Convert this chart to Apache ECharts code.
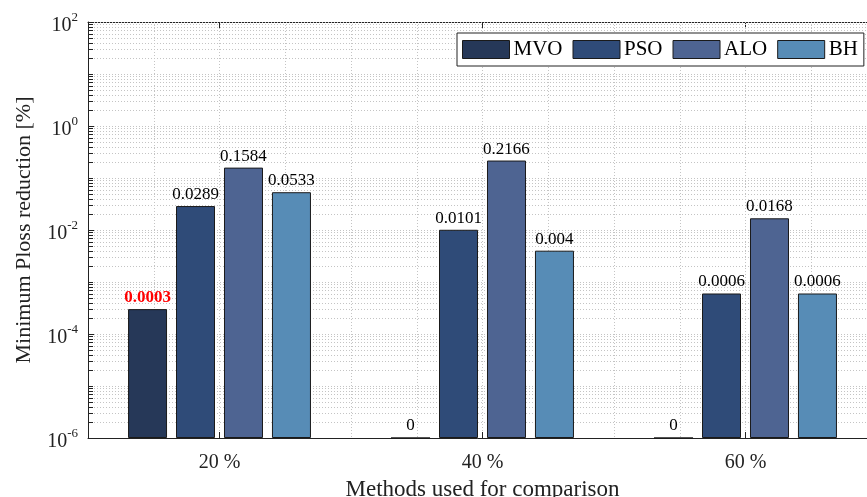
<!DOCTYPE html>
<html>
<head>
<meta charset="utf-8">
<script src="https://cdn.jsdelivr.net/npm/echarts@6/dist/echarts.min.js"></script>
<style>html,body{margin:0;padding:0;background:#fff}#c{width:867px;height:497px}</style>
</head>
<body>
<div id="c"></div>
<script>
const categories = ['20 %', '40 %', '60 %'];
const seriesNames = ['MVO', 'PSO', 'ALO', 'BH'];
const mvoValues = [0.0003, 0, 0];
const psoValues = [0.0289, 0.0101, 0.0006];
const aloValues = [0.1584, 0.2166, 0.0168];
const bhValues = [0.0533, 0.004, 0.0006];
const yMin = 1e-6, yMax = 1e2;
const colors = ['#263858', '#2f4b78', '#4e6492', '#578cb6'];

const FONT = '"Liberation Serif", "Times New Roman", serif';
const allValues = [mvoValues, psoValues, aloValues, bhValues];

// minor/major grid values (every m*10^k within range)
const gridValues = [];
for (let k = -6; k < 2; k++) {
  for (let m = 1; m <= 9; m++) {
    const v = m * Math.pow(10, k);
    if (!(m === 1 && k === -6)) gridValues.push([0, v, m]);
  }
}
gridValues.push([0, 100, 1]);

const chart = echarts.init(document.getElementById('c'), null, {renderer: 'canvas'});

const barSeries = [];
seriesNames.forEach((name, i) => {
  // invisible base so bars rise from the bottom of the log axis
  barSeries.push({
    name: '_base' + i,
    type: 'bar',
    stack: 's' + i,
    barWidth: 39,
    barGap: '23%',
    silent: true,
    z: 4,
    itemStyle: {color: 'rgba(0,0,0,0)', borderWidth: 0},
    label: {show: false},
    data: categories.map(() => yMin)
  });
  barSeries.push({
    name: name,
    type: 'bar',
    stack: 's' + i,
    barWidth: 39,
    barGap: '23%',
    z: 5,
    itemStyle: {color: colors[i], borderColor: '#1a1a1a', borderWidth: 1},
    data: allValues[i].map((v, j) => {
      const item = {value: v, raw: v};
      if (i === 0 && j === 0) {
        item.label = {color: '#ff0000', fontWeight: 'bold'};
      }
      return item;
    }),
    label: {
      show: true,
      position: 'top',
      distance: 3,
      fontFamily: FONT,
      fontSize: 17,
      color: '#000',
      formatter: p => String(p.data.raw)
    }
  });
});

const gridSeries = {
  type: 'custom',
  xAxisIndex: 0,
  yAxisIndex: 0,
  silent: true,
  z: 1,
  clip: false,
  data: gridValues,
  renderItem: function (params, api) {
    const cs = params.coordSys;
    const y = Math.round(api.coord([0, api.value(1)])[1]) + 0.5;
    return {
      type: 'group',
      children: [
        {
          type: 'line',
          shape: {x1: cs.x, y1: y, x2: cs.x + cs.width, y2: y},
          style: {stroke: '#c4c4c4', lineWidth: 1, lineDash: [1, 2]}
        },
        {
          type: 'line',
          shape: {x1: cs.x, y1: y, x2: cs.x + 5, y2: y},
          style: {stroke: '#222', lineWidth: 1}
        }
      ]
    };
  }
};

const option = {
  backgroundColor: '#fff',
  animation: false,
  color: colors,
  grid: {left: 88, top: 22, width: 789, height: 416, containLabel: false, outerBoundsMode: 'none'},
  legend: {
    data: seriesNames,
    left: 457,
    top: 33,
    padding: [6, 6, 6, 5],
    itemGap: 10,
    itemWidth: 47,
    itemHeight: 18,
    icon: 'rect',
    borderColor: '#222',
    borderWidth: 1,
    backgroundColor: '#fff',
    textStyle: {fontFamily: FONT, fontSize: 21, color: '#000', padding: [0, 0, 0, -1]},
    itemStyle: {borderColor: '#1a1a1a', borderWidth: 1}
  },
  xAxis: [
    {
      type: 'category',
      data: categories,
      position: 'bottom',
      name: 'Methods used for comparison',
      nameLocation: 'middle',
      nameGap: 40,
      nameTextStyle: {fontFamily: FONT, fontSize: 23, color: '#222'},
      axisLine: {show: true, lineStyle: {color: '#222', width: 1}},
      axisTick: {show: true, inside: true, alignWithLabel: true, length: 6, lineStyle: {color: '#222'}},
      axisLabel: {fontFamily: FONT, fontSize: 20, color: '#222', margin: 15},
      splitLine: {show: false}
    },
    {
      type: 'category',
      data: categories,
      position: 'top',
      axisLine: {show: true, lineStyle: {color: '#222', width: 1}},
      axisTick: {show: true, inside: true, alignWithLabel: true, length: 6, lineStyle: {color: '#222'}},
      axisLabel: {show: false},
      splitLine: {show: false}
    },
    {
      type: 'value',
      min: 0.5,
      max: 3.5,
      interval: 0.25,
      show: true,
      position: 'bottom',
      axisLine: {show: false},
      axisTick: {show: false},
      axisLabel: {show: false},
      splitLine: {show: true, lineStyle: {color: '#c4c4c4', type: [1, 2], width: 1}}
    }
  ],
  yAxis: [
    {
      type: 'log',
      logBase: 10,
      min: yMin,
      max: yMax,
      interval: 2,
      name: 'Minimum Ploss reduction [%]',
      nameLocation: 'middle',
      nameGap: 53,
      nameRotate: 90,
      nameTextStyle: {fontFamily: FONT, fontSize: 22, color: '#222'},
      axisLine: {show: true, lineStyle: {color: '#222', width: 1}},
      axisTick: {show: true, inside: true, length: 6, lineStyle: {color: '#222'}},
      axisLabel: {
        margin: 10,
        padding: [8, 0, 0, 0],
        formatter: function (v) {
          const e = Math.round(Math.log10(v));
          return '{b|10}{s|' + e + '}';
        },
        rich: {
          b: {fontFamily: FONT, fontSize: 20, color: '#222'},
          s: {fontFamily: FONT, fontSize: 13, color: '#222', padding: [0, 0, 16, 0]}
        }
      },
      splitLine: {show: false}
    }
  ],
  series: [gridSeries].concat(barSeries)
};
chart.setOption(option);
</script>
</body>
</html>
